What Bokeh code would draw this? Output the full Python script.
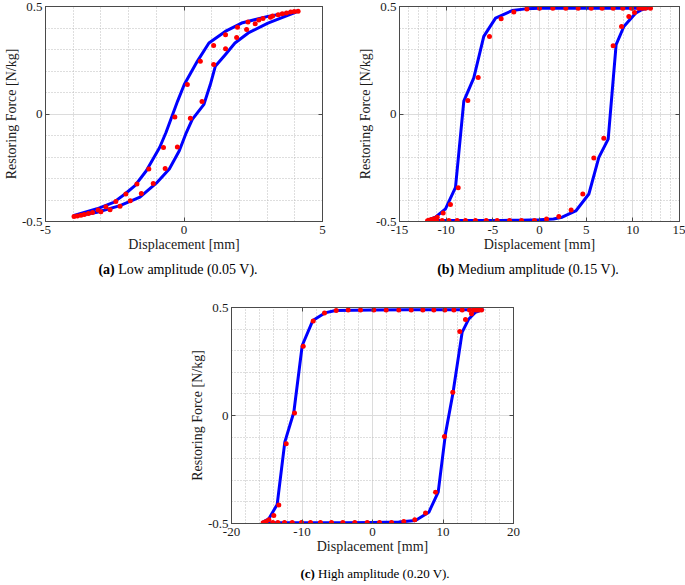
from bokeh.plotting import figure
from bokeh.models import LinearAxis, FixedTicker, Range1d, Div, Spacer, CustomJSTickFormatter
from bokeh.layouts import column, row
from bokeh.embed import file_html
from bokeh.resources import INLINE

# ---------------- data ----------------
# (a) low amplitude: model loop (upper branch right->left, lower branch left->right)
a_model_x = [4.16, 3.03, 2.08, 1.49, 0.90, 0.48, 0.01, -0.23, -0.43, -0.65, -0.88, -1.36, -1.77, -2.13, -2.54, -3.14, -3.97,
             -3.97, -3.14, -2.31, -1.59, -1.00, -0.53, -0.17, 0.06, 0.30, 0.72, 0.95, 1.13, 1.49, 1.84, 2.32, 3.03, 4.16]
a_model_y = [0.480, 0.454, 0.423, 0.384, 0.330, 0.245, 0.137, 0.060, -0.009, -0.086, -0.156, -0.264, -0.333, -0.372, -0.411, -0.441, -0.472,
             -0.477, -0.457, -0.426, -0.387, -0.322, -0.256, -0.171, -0.094, -0.025, 0.045, 0.137, 0.222, 0.276, 0.330, 0.377, 0.423, 0.480]
a_meas_x = [4.12, 3.98, 3.85, 3.70, 3.55, 3.40, 3.20, 3.12, 2.85, 2.70, 2.57, 2.31, 2.26, 1.93, 1.90, 1.50, 1.50, 1.07, 1.07, 0.59,
            0.65, 0.12, 0.23, -0.33, -0.24, -0.74, -0.68, -1.27, -1.11, -1.70, -1.54, -2.10, -1.94, -2.46, -2.31, -2.82, -2.67,
            -3.10, -3.00, -3.30, -3.45, -3.60, -3.72, -3.85, -3.97]
a_meas_y = [0.478, 0.477, 0.474, 0.470, 0.466, 0.462, 0.456, 0.450, 0.444, 0.437, 0.420, 0.428, 0.393, 0.404, 0.356, 0.369, 0.304, 0.319, 0.230, 0.245,
            0.058, 0.137, -0.020, -0.014, -0.154, -0.156, -0.254, -0.256, -0.323, -0.326, -0.370, -0.372, -0.403, -0.407, -0.429, -0.431, -0.445,
            -0.447, -0.455, -0.458, -0.463, -0.468, -0.471, -0.474, -0.477]

# (b) medium amplitude
b_model_x = [-12.0, -10.0, -8.0, -6.0, -4.0, -2.0, 0.0, 1.5, 2.43, 3.93, 5.29, 6.36, 7.36, 8.21, 9.04, 10.29, 11.0, 11.6,
             8.0, 4.0, 0.07, -1.5, -2.93, -4.71, -5.97, -7.04, -8.11, -9.0, -10.07, -11.14, -12.03]
b_model_y = [-0.495, -0.495, -0.495, -0.495, -0.495, -0.494, -0.492, -0.488, -0.480, -0.449, -0.372, -0.202, -0.117, 0.323, 0.407, 0.469, 0.486, 0.492,
             0.492, 0.492, 0.492, 0.489, 0.481, 0.446, 0.361, 0.168, 0.060, -0.341, -0.441, -0.480, -0.495]
b_meas_x = [-12.0, -11.85, -11.6, -11.3, -10.96, -10.32, -9.54, -8.71, -7.68, -6.57, -5.36, -4.11, -2.75, -1.35,
            0.0, 1.43, 2.82, 4.14, 5.54, 6.71, 7.89, 8.93, 9.86, 10.64, 11.0, 11.36, 11.89,
            10.18, 9.57, 8.79, 7.89, 6.89, 5.82, 4.64, 3.39, 2.07, 0.75,
            -0.54, -1.93, -3.21, -4.54, -5.71, -6.86, -7.93, -8.82, -9.71, -10.43, -11.04]
b_meas_y = [-0.496, -0.494, -0.491, -0.487, -0.480, -0.460, -0.421, -0.343, 0.063, 0.170, 0.361, 0.443, 0.474, 0.488,
            0.492, 0.492, 0.492, 0.492, 0.492, 0.492, 0.492, 0.492, 0.492, 0.492, 0.492, 0.492, 0.492,
            0.472, 0.454, 0.407, 0.318, -0.113, -0.205, -0.372, -0.446, -0.477, -0.488,
            -0.495, -0.495, -0.495, -0.495, -0.495, -0.495, -0.495, -0.495, -0.495, -0.495, -0.495]

# (c) high amplitude
c_model_x = [-15.74, -12.0, -8.0, -4.0, 0.0, 3.73, 6.10, 7.99, 9.32, 10.35, 11.39, 12.72, 13.66, 14.61, 15.65,
             10.0, 5.0, 0.0, -5.25, -6.76, -8.46, -9.97, -11.16, -12.44, -13.52, -14.70, -15.74]
c_model_y = [-0.497, -0.497, -0.497, -0.496, -0.495, -0.493, -0.486, -0.448, -0.355, -0.085, 0.100, 0.386, 0.447, 0.478, 0.490,
             0.490, 0.490, 0.489, 0.486, 0.475, 0.440, 0.324, 0.015, -0.123, -0.412, -0.478, -0.497]
c_meas_x = [-15.51, -15.25, -15.08, -14.70, -14.0, -13.29, -12.24, -11.06, -9.83, -8.41, -6.81, -5.15, -3.45, -1.70,
            0.19, 1.94, 3.73, 5.49, 7.14, 8.70, 10.26, 11.54, 12.72, 13.76, 14.37, 14.75, 15.08, 15.46,
            14.04, 13.19, 12.38, 11.39, 10.21, 8.94, 7.52, 6.0, 4.44, 2.70, 1.0,
            -0.75, -2.51, -4.21, -5.82, -7.38, -8.79, -10.07, -11.39, -12.48, -13.43, -14.14]
c_meas_y = [-0.497, -0.494, -0.491, -0.483, -0.463, -0.414, -0.131, 0.011, 0.321, 0.437, 0.474, 0.486, 0.489, 0.489,
            0.489, 0.489, 0.489, 0.489, 0.489, 0.489, 0.489, 0.489, 0.489, 0.489, 0.489, 0.489, 0.489, 0.489,
            0.471, 0.444, 0.389, 0.108, -0.097, -0.355, -0.451, -0.483, -0.491, -0.495, -0.495,
            -0.495, -0.495, -0.495, -0.495, -0.495, -0.495, -0.495, -0.495, -0.495, -0.495, -0.495]

y_ticks = [-0.5, 0.0, 0.5]
y_minor = [-0.4, -0.3, -0.2, -0.1, 0.1, 0.2, 0.3, 0.4]
a_xticks = [-5, 0, 5]
a_xminor = [-4, -3, -2, -1, 1, 2, 3, 4]
b_xticks = [-15, -10, -5, 0, 5, 10, 15]
b_xminor = [v for v in range(-14, 15) if v % 5 != 0]
c_xticks = [-20, -10, 0, 10, 20]
c_xminor = [v for v in range(-18, 19, 2) if v % 10 != 0]

x_label = "Displacement [mm]"
y_label = "Restoring Force [N/kg]"
captions = ["Low amplitude (0.05 V).", "Medium amplitude (0.15 V).", "High amplitude (0.20 V)."]

FONT = "Liberation Serif"
AX = "#4a4a4a"


def make_fig(w, h, xr, xticks, xminor, bl, br, bt, bb, mx, my, ex, ey):
    p = figure(width=w, height=h, x_range=Range1d(*xr), y_range=Range1d(-0.5, 0.5),
               output_backend="svg", toolbar_location=None,
               min_border_left=bl, min_border_right=br, min_border_top=bt, min_border_bottom=bb)
    p.background_fill_color = "white"
    p.border_fill_color = "white"
    p.outline_line_color = AX
    p.outline_line_width = 1
    fmt = CustomJSTickFormatter(code="return tick.toString();")
    blank = CustomJSTickFormatter(code="return '';")
    xt = FixedTicker(ticks=xticks, minor_ticks=xminor)
    yt = FixedTicker(ticks=y_ticks, minor_ticks=y_minor)
    for ax, t, lab in ((p.xaxis[0], xt, x_label), (p.yaxis[0], yt, y_label)):
        ax.ticker = t
        ax.formatter = fmt
        ax.axis_label = lab
        ax.axis_label_text_font = FONT
        ax.axis_label_text_font_style = "normal"
        ax.axis_label_text_font_size = "14px"
        ax.axis_label_text_color = "#1a1a1a"
        ax.major_label_text_font = FONT
        ax.major_label_text_font_size = "13px"
        ax.major_label_text_color = "#1a1a1a"
        ax.axis_line_color = AX
        ax.major_tick_line_color = AX
        ax.major_tick_in = 4
        ax.major_tick_out = 0
        ax.minor_tick_in = 0
        ax.minor_tick_out = 0
        ax.axis_label_standoff = 0
    p.xaxis[0].major_label_standoff = 4
    p.yaxis[0].major_label_standoff = 3
    for g, t in ((p.xgrid[0], xt), (p.ygrid[0], yt)):
        g.ticker = t
        g.grid_line_color = "#dcdcdc"
        g.grid_line_width = 1
        g.minor_grid_line_color = "#bdbdbd"
        g.minor_grid_line_dash = "1 2"
        g.minor_grid_line_width = 1
    for loc, t in (("above", FixedTicker(ticks=xticks)), ("right", FixedTicker(ticks=y_ticks))):
        ax = LinearAxis(ticker=t, formatter=blank, major_label_text_font_size="1px",
                        major_label_standoff=0, major_tick_in=4, major_tick_out=0,
                        minor_tick_in=0, minor_tick_out=0,
                        axis_line_color=AX, major_tick_line_color=AX)
        p.add_layout(ax, loc)
    p.line(mx, my, line_color="#0000ff", line_width=3, line_join="round")
    p.scatter(ex, ey, size=5, fill_color="#ff0000", line_color="#ff0000", line_width=0)
    return p


# row 1: frames at x 41..322 and 399..679, y 6..221
pa = make_fig(340, 259, (-5, 5), a_xticks, a_xminor, 41, 18, 6, 38, a_model_x, a_model_y, a_meas_x, a_meas_y)
pb = make_fig(345, 259, (-15, 15), b_xticks, b_xminor, 59, 6, 6, 38, b_model_x, b_model_y, b_meas_x, b_meas_y)
# row 2: frame at x 231..513, y 307..523
pc = make_fig(341, 278, (-20, 20), c_xticks, c_xminor, 49, 10, 24, 38, c_model_x, c_model_y, c_meas_x, c_meas_y)


def span(cx, top, tag, txt, size):
    return (f'<span style="position:absolute;left:{cx}px;top:{top}px;transform:translateX(-50%);'
            f'white-space:nowrap;font-size:{size}px;"><b>({tag})</b> {txt}</span>')


def box(w, h):
    return (f'<div style="position:relative;width:{w}px;height:{h}px;font-family:\'Liberation Serif\',serif;'
            'color:#000;line-height:16px;">')


cap1 = Div(text=box(685, 24) + span(178, 3, "a", captions[0], 14) + span(528, 3, "b", captions[1], 14) + '</div>',
           width=685, height=24, margin=0)
cap2 = Div(text=box(685, 22) + span(375, 5, "c", captions[2], 13) + '</div>', width=685, height=22, margin=0)

layout = column(row(pa, pb, spacing=0), cap1,
                row(Spacer(width=182, height=278), pc, spacing=0), cap2, spacing=0)

open("out.html", "w").write(file_html(layout, INLINE))
